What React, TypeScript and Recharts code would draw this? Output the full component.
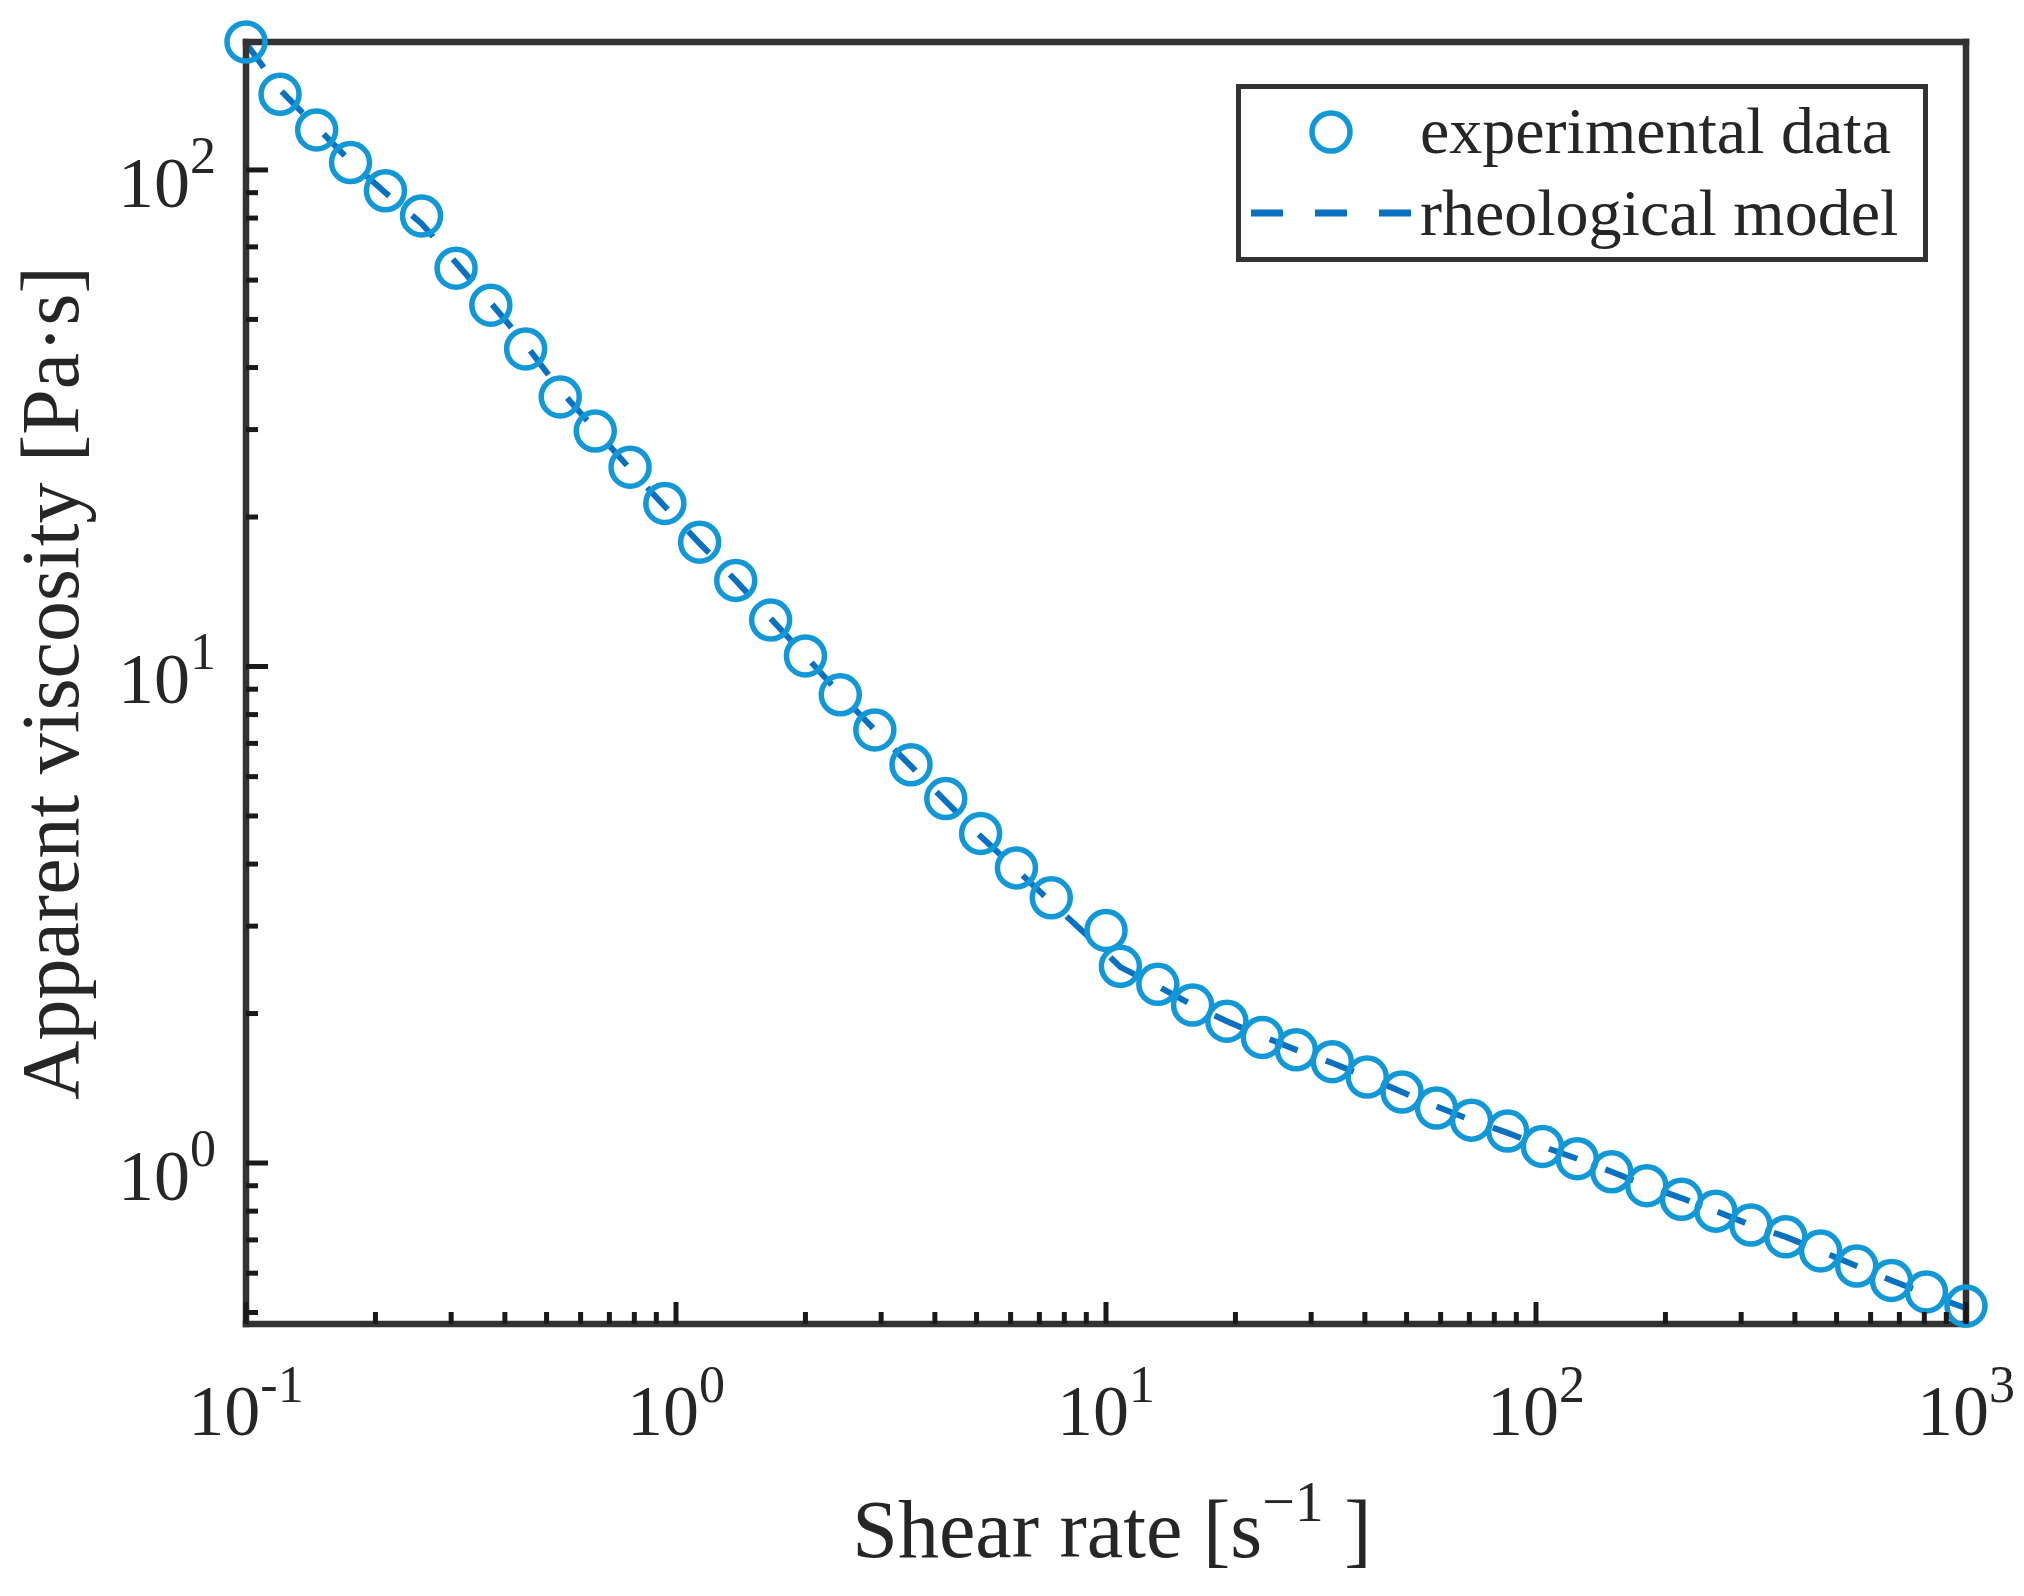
import React from 'react';
import { ComposedChart, Scatter, Line, XAxis, YAxis, Legend, Label } from 'recharts';

// ---- data ----
const shearRate = [
  0.1, 0.12, 0.146, 0.175, 0.211, 0.256, 0.308, 0.371, 0.447, 0.538,
  0.649, 0.782, 0.942, 1.135, 1.377, 1.66, 2.0, 2.41, 2.9, 3.52,
  4.24, 5.11, 6.19, 7.46, 10.0, 10.8, 13.2, 15.9, 19.1, 23.1,
  27.7, 33.6, 40.5, 48.8, 58.7, 70.8, 85.9, 103.5, 124.7, 150,
  181, 218, 262, 316, 381, 459, 557, 671, 809, 1000,
];
const viscosity = [
  181, 142, 120.4, 103.5, 90.8, 80.8, 63.4, 53.4, 43.6, 34.9,
  29.8, 25.2, 21.3, 17.8, 14.9, 12.4, 10.5, 8.77, 7.45, 6.34,
  5.42, 4.61, 3.93, 3.42, 2.94, 2.49, 2.29, 2.08, 1.93, 1.79,
  1.69, 1.6, 1.49, 1.39, 1.29, 1.22, 1.16, 1.08, 1.02, 0.96,
  0.9, 0.845, 0.8, 0.75, 0.71, 0.665, 0.62, 0.58, 0.55, 0.515,
];
const modelViscosity = [
  180, 145, 122, 104, 90, 78, 65, 54, 44.5, 36,
  30, 25, 21, 17.7, 14.9, 12.5, 10.5, 8.8, 7.45, 6.3,
  5.35, 4.55, 3.9, 3.35, 2.65, 2.48, 2.27, 2.08, 1.93, 1.8,
  1.69, 1.59, 1.49, 1.39, 1.3, 1.22, 1.15, 1.08, 1.02, 0.96,
  0.9, 0.85, 0.8, 0.75, 0.71, 0.665, 0.62, 0.58, 0.545, 0.51,
];

const xMajorTicks = [0.1, 1, 10, 100, 1000];
const xMajorExponents = ['-1', '0', '1', '2', '3'];
const xMinorTicks = [
  0.2, 0.3, 0.4, 0.5, 0.6, 0.7, 0.8, 0.9,
  2, 3, 4, 5, 6, 7, 8, 9,
  20, 30, 40, 50, 60, 70, 80, 90,
  200, 300, 400, 500, 600, 700, 800, 900,
];
const yMajorTicks = [1, 10, 100];
const yMajorExponents = ['0', '1', '2'];
const yMinorTicks = [
  0.5, 0.6, 0.7, 0.8, 0.9,
  2, 3, 4, 5, 6, 7, 8, 9,
  20, 30, 40, 50, 60, 70, 80, 90,
];
const xDomain = [0.1, 1000];
const yDomain = [0.474, 181];
const seriesNames = ['experimental data', 'rheological model'];
const xAxisTitle = 'Shear rate [s';
const xAxisTitleSup = '\u22121';
const yAxisTitle = 'Apparent viscosity [Pa\u00B7s]';

const experimentalData = shearRate.map((x, i) => ({ x, y: viscosity[i] }));
const modelData = shearRate.map((x, i) => ({ x, y: modelViscosity[i] }));
const xTicks = [...xMajorTicks, ...xMinorTicks].sort((a, b) => a - b);
const yTicks = [...yMajorTicks, ...yMinorTicks].sort((a, b) => a - b);

// ---- styles ----
const FONT = '"Liberation Serif", "Times New Roman", serif';
const AXIS = '#333333';
const TICK = '#1a1a1a';
const TEXT = '#262626';
const CIRCLE = '#1298d6';
const LINE = '#0a70c0';
const MAJOR_LEN = 22;
const MINOR_LEN = 12;

const BottomTick = (props: any) => {
  const { x, y, payload } = props;
  const i = xMajorTicks.indexOf(payload.value);
  const len = i >= 0 ? MAJOR_LEN : MINOR_LEN;
  return (
    <g>
      <line x1={x} y1={y} x2={x} y2={y - len} stroke={TICK} strokeWidth={5} />
      {i >= 0 && (
        <text x={x} y={y + 111} textAnchor="middle" fontFamily={FONT} fontSize={72} fill={TEXT}>
          10<tspan dy={-33} fontSize={52}>{xMajorExponents[i]}</tspan>
        </text>
      )}
    </g>
  );
};

const TopTick = (props: any) => {
  const { x, y, payload } = props;
  const len = xMajorTicks.indexOf(payload.value) >= 0 ? MAJOR_LEN : MINOR_LEN;
  return <line x1={x} y1={y} x2={x} y2={y + len} stroke={TICK} strokeWidth={5} />;
};

const LeftTick = (props: any) => {
  const { x, y, payload } = props;
  const i = yMajorTicks.indexOf(payload.value);
  const len = i >= 0 ? MAJOR_LEN : MINOR_LEN;
  return (
    <g>
      <line x1={x} y1={y} x2={x + len} y2={y} stroke={TICK} strokeWidth={5} />
      {i >= 0 && (
        <text x={x - 30} y={y + 37} textAnchor="end" fontFamily={FONT} fontSize={72} fill={TEXT}>
          10<tspan dy={-34} fontSize={52}>{yMajorExponents[i]}</tspan>
        </text>
      )}
    </g>
  );
};

const RightTick = (props: any) => {
  const { x, y, payload } = props;
  const len = yMajorTicks.indexOf(payload.value) >= 0 ? MAJOR_LEN : MINOR_LEN;
  return <line x1={x} y1={y} x2={x - len} y2={y} stroke={TICK} strokeWidth={5} />;
};

const CircleMarker = (props: any) => {
  const { cx, cy } = props;
  if (cx == null || cy == null) return null;
  return <circle cx={cx} cy={cy} r={19} fill="none" stroke={CIRCLE} strokeWidth={5.5} />;
};

const XTitle = (props: any) => {
  const vb = props.viewBox || { x: 246, y: 1324, width: 1720 };
  const cx = vb.x + vb.width / 2 + 6;
  return (
    <text x={cx} y={vb.y + 233} textAnchor="middle" fontFamily={FONT} fontSize={82} fill={TEXT}>
      {xAxisTitle}
      <tspan dy={-36} fontSize={58}>{xAxisTitleSup}</tspan>
      <tspan dy={36}>{' ]'}</tspan>
    </text>
  );
};

const YTitle = (props: any) => {
  const vb = props.viewBox || { x: 46, y: 42, width: 200, height: 1282 };
  const bx = vb.x + 32;
  const cy = vb.y + vb.height / 2;
  return (
    <text
      x={bx}
      y={cy}
      textAnchor="middle"
      transform={`rotate(-90 ${bx} ${cy})`}
      fontFamily={FONT}
      fontSize={82}
      fill={TEXT}
    >
      {yAxisTitle}
    </text>
  );
};

const LegendBox = () => (
  <svg width={692} height={178} style={{ display: 'block' }}>
    <rect x={2.5} y={2.5} width={687} height={173} fill="#ffffff" stroke={AXIS} strokeWidth={5} />
    <circle cx={95} cy={48} r={19} fill="none" stroke={CIRCLE} strokeWidth={5.5} />
    <line x1={15} y1={129} x2={176} y2={129} stroke={LINE} strokeWidth={7} strokeDasharray="32 32" />
    <text x={184} y={69} fontFamily={FONT} fontSize={66} fill={TEXT}>{seriesNames[0]}</text>
    <text x={184} y={151} fontFamily={FONT} fontSize={66} fill={TEXT}>{seriesNames[1]}</text>
  </svg>
);

export default function App() {
  return (
    <div style={{ position: 'absolute', left: 0, top: 0, width: 2024, height: 1596, background: '#ffffff' }}>
      <ComposedChart
        width={2024}
        height={1596}
        margin={{ top: 32, right: 48, bottom: 172, left: 46 }}
      >
        <XAxis
          xAxisId={0}
          dataKey="x"
          type="number"
          scale="log"
          domain={xDomain}
          ticks={xTicks}
          interval={0}
          height={100}
          tickSize={0}
          tickMargin={0}
          tick={BottomTick}
          tickLine={false}
          axisLine={{ stroke: AXIS, strokeWidth: 6.5, strokeLinecap: 'square' }}
        >
          <Label content={XTitle} />
        </XAxis>
        <XAxis
          xAxisId="top"
          orientation="top"
          dataKey="x"
          type="number"
          scale="log"
          domain={xDomain}
          ticks={xTicks}
          interval={0}
          height={10}
          tickSize={0}
          tickMargin={0}
          tick={TopTick}
          tickLine={false}
          axisLine={{ stroke: AXIS, strokeWidth: 6.5, strokeLinecap: 'square' }}
        />
        <YAxis
          yAxisId={0}
          dataKey="y"
          type="number"
          scale="log"
          domain={yDomain}
          ticks={yTicks}
          interval={0}
          width={200}
          tickSize={0}
          tickMargin={0}
          tick={LeftTick}
          tickLine={false}
          axisLine={{ stroke: AXIS, strokeWidth: 6.5, strokeLinecap: 'square' }}
        >
          <Label content={YTitle} />
        </YAxis>
        <YAxis
          yAxisId="right"
          orientation="right"
          dataKey="y"
          type="number"
          scale="log"
          domain={yDomain}
          ticks={yTicks}
          interval={0}
          width={10}
          tickSize={0}
          tickMargin={0}
          tick={RightTick}
          tickLine={false}
          axisLine={{ stroke: AXIS, strokeWidth: 6.5, strokeLinecap: 'square' }}
        />
        <Scatter
          name={seriesNames[0]}
          data={experimentalData}
          xAxisId={0}
          yAxisId={0}
          shape={CircleMarker}
          isAnimationActive={false}
        />
        <Line
          name={seriesNames[1]}
          data={modelData}
          dataKey="y"
          xAxisId={0}
          yAxisId={0}
          type="linear"
          stroke={LINE}
          strokeWidth={6}
          strokeDasharray="30 30"
          dot={false}
          activeDot={false}
          isAnimationActive={false}
        />
        <Legend
          layout="horizontal"
          verticalAlign="middle"
          align="center"
          content={LegendBox}
          wrapperStyle={{ left: 1236, top: 84, width: 692, height: 178 }}
        />
      </ComposedChart>
    </div>
  );
}
